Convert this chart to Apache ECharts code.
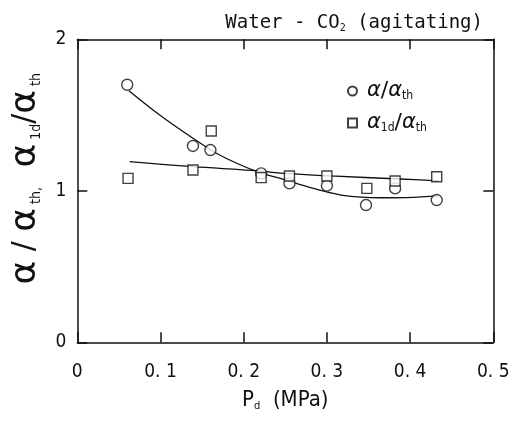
<!DOCTYPE html>
<html>
<head>
<meta charset="utf-8">
<script src="https://cdn.jsdelivr.net/npm/echarts@6/dist/echarts.min.js"></script>
<style>html,body{margin:0;padding:0;background:#fff;}#c{width:530px;height:423px;}</style>
</head>
<body>
<div id="c"></div>
<script>
// ---- data ----
const xTicks = [0, 0.1, 0.2, 0.3, 0.4, 0.5];
const xTickLabels = ['0', '0. 1', '0. 2', '0. 3', '0. 4', '0. 5'];
const yTickLabels = ['0', '1', '2'];

const circleX = [0.060, 0.139, 0.160, 0.221, 0.255, 0.300, 0.347, 0.382, 0.432];
const circleY = [1.700, 1.296, 1.269, 1.115, 1.049, 1.034, 0.906, 1.016, 0.939];

const squareX = [0.061, 0.139, 0.161, 0.221, 0.255, 0.300, 0.348, 0.382, 0.432];
const squareY = [1.082, 1.137, 1.395, 1.087, 1.098, 1.098, 1.016, 1.065, 1.093];

// fitted curves
const circleFitX = [0.062, 0.099, 0.139, 0.171, 0.216, 0.244, 0.284, 0.324, 0.364, 0.404, 0.434];
const circleFitY = [1.660, 1.500, 1.347, 1.236, 1.126, 1.082, 1.016, 0.966, 0.954, 0.957, 0.966];

const squareFitX = [0.063, 0.139, 0.216, 0.244, 0.304, 0.388, 0.434];
const squareFitY = [1.192, 1.159, 1.133, 1.116, 1.098, 1.078, 1.065];

const zip = (a, b) => a.map((v, i) => [v, b[i]]);

const COND = '"DejaVu Sans Condensed", "DejaVu Sans", sans-serif';
const MONO = '"DejaVu Sans Mono", monospace';
const GREEK = '"DejaVu Sans", sans-serif';
const ink = '#111';

const chart = echarts.init(document.getElementById('c'), null, {renderer: 'canvas'});

const axisLine = {show: true, onZero: false, lineStyle: {color: ink, width: 1.5}};
const tick = {show: true, inside: true, length: 10, lineStyle: {color: ink, width: 1.5}};

chart.setOption({
  backgroundColor: '#fff',
  animation: false,
  title: {
    text: '{n|Water - CO}{s|2}{n| (agitating)}',
    right: 42, top: 9,
    textStyle: {
      fontWeight: 'normal',
      rich: {
        n: {fontFamily: MONO, fontSize: 19, fontWeight: 'normal', color: ink},
        s: {fontFamily: MONO, fontSize: 10, fontWeight: 'normal', color: ink, verticalAlign: 'bottom', padding: [8, 0, 0, 0]}
      }
    }
  },
  legend: {
    orient: 'vertical',
    left: 342, top: 75,
    itemWidth: 9, itemHeight: 9, itemGap: 10,
    data: ['c', 's'],
    formatter: function (name) {
      return name === 'c'
        ? '{a|α}{sl|/}{a|α}{sb|th}'
        : '{a|α}{sb|1d}{sl|/}{a|α}{sb|th}';
    },
    textStyle: {
      padding: [0, 0, 0, 5],
      rich: {
        a: {fontFamily: GREEK, fontStyle: 'italic', fontSize: 21, color: ink},
        sl: {fontFamily: GREEK, fontSize: 22, color: ink},
        sb: {fontFamily: COND, fontSize: 12, color: ink, verticalAlign: 'bottom', padding: [6, 0, 0, 0]}
      }
    }
  },
  grid: {left: 77.3, right: 36.7, top: 39.3, bottom: 80.7, containLabel: false, outerBoundsMode: 'none'},
  xAxis: [{
    type: 'value', min: 0, max: 0.5, interval: 0.1, position: 'bottom',
    axisLine: axisLine, axisTick: tick, splitLine: {show: false},
    axisLabel: {
      margin: 20, fontFamily: COND, fontSize: 19, color: ink,
      formatter: v => xTickLabels[xTicks.findIndex(t => Math.abs(t - v) < 1e-9)]
    },
    name: '{p|P}{d|d}{m|  (MPa)}',
    nameLocation: 'middle', nameGap: 47,
    nameTextStyle: {
      rich: {
        p: {fontFamily: COND, fontSize: 22, color: ink},
        d: {fontFamily: COND, fontSize: 11, color: ink, verticalAlign: 'bottom', padding: [8, 0, 0, 0]},
        m: {fontFamily: COND, fontSize: 22, color: ink}
      }
    }
  }, {
    type: 'value', min: 0, max: 0.5, interval: 0.1, position: 'top',
    axisLine: axisLine, axisTick: tick, axisLabel: {show: false}, splitLine: {show: false}
  }],
  yAxis: [{
    type: 'value', min: 0, max: 2, interval: 1, position: 'left',
    axisLine: axisLine, axisTick: tick, splitLine: {show: false},
    axisLabel: {
      margin: 11, fontFamily: COND, fontSize: 19, color: ink,
      formatter: v => yTickLabels[Math.round(v)]
    },
    name: '{a|α}{sl| / }{a|α}{sb| th,}{sp|     }{a|α}{sb| 1d}{sl|/}{a|α}{sb| th}',
    nameLocation: 'middle', nameGap: 34, nameRotate: 90,
    nameTextStyle: {
      padding: [0, 0, 0, 24],
      rich: {
        a: {fontFamily: GREEK, fontSize: 36, color: ink},
        sl: {fontFamily: GREEK, fontSize: 30, color: ink},
        sb: {fontFamily: COND, fontSize: 14, color: ink, verticalAlign: 'bottom', padding: [14, 0, 0, 0]},
        sp: {fontSize: 14}
      }
    }
  }, {
    type: 'value', min: 0, max: 2, interval: 1, position: 'right',
    axisLine: axisLine, axisTick: tick, axisLabel: {show: false}, splitLine: {show: false}
  }],
  series: [
    {
      name: 'cfit', type: 'line', data: zip(circleFitX, circleFitY), smooth: 0.35,
      showSymbol: false, symbol: 'none', lineStyle: {color: ink, width: 1.3}, silent: true, z: 1
    },
    {
      name: 'sfit', type: 'line', data: zip(squareFitX, squareFitY), smooth: 0.35,
      showSymbol: false, symbol: 'none', lineStyle: {color: ink, width: 1.3}, silent: true, z: 1
    },
    {
      name: 'c', type: 'scatter', data: zip(circleX, circleY), symbol: 'circle', symbolSize: 11,
      itemStyle: {color: '#fff', borderColor: ink, borderWidth: 1.4}, z: 3
    },
    {
      name: 's', type: 'scatter', data: zip(squareX, squareY), symbol: 'rect', symbolSize: 10,
      itemStyle: {color: '#fff', borderColor: ink, borderWidth: 1.4}, z: 3
    }
  ]
});
</script>
</body>
</html>
